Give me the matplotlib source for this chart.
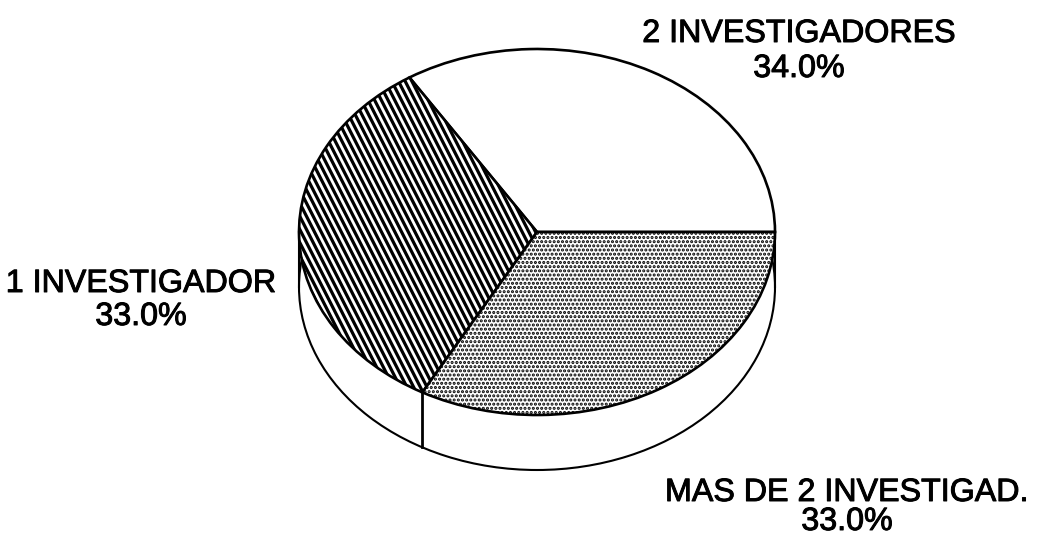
import numpy as np
import matplotlib
matplotlib.use('Agg')
import matplotlib.pyplot as plt
import matplotlib.patheffects as pe
from matplotlib.collections import LineCollection
from matplotlib.transforms import IdentityTransform

valores = [34.0, 33.0, 33.0]
nombres = ['2 INVESTIGADORES', '1 INVESTIGADOR', 'MAS DE 2 INVESTIGAD.']
porcentajes = ['34.0%', '33.0%', '33.0%']
# centro de cada etiqueta y lineas base en pixeles de la imagen
etiqueta_x = [799, 141, 847]
base_nombre = [42, 292, 501]
base_pct = [77, 325, 530]

W, H = 1037, 537
plt.rcParams['font.family'] = ['Liberation Sans', 'DejaVu Sans']
plt.rcParams['hatch.linewidth'] = 1.5

fig = plt.figure(figsize=(W/100, H/100), dpi=100)
# el eje ocupa justo la elipse superior
cx, cy, a, b, prof = 537, 232, 238, 183, 55
ax = fig.add_axes([(cx-a)/W, 1-(cy+b)/H, 2*a/W, 2*b/H])

# pared lateral
d = prof/b
ax.pie([1], radius=1, center=(0, -d), colors=['white'],
       wedgeprops=dict(edgecolor='black', linewidth=1.5, clip_on=False))
wedges, _ = ax.pie(valores, radius=1, startangle=0, counterclock=True,
                   colors=['white', 'white', 'white'],
                   wedgeprops=dict(edgecolor='black', linewidth=1.9, clip_on=False))
ax.set_aspect('auto')
ax.set_xlim(-1, 1)
ax.set_ylim(-1, 1)
ax.axis('off')

ax.plot([-1, -1], [0, -d], color='black', lw=1.5, clip_on=False)
ax.plot([1, 1], [0, -d], color='black', lw=1.5, clip_on=False)
t = np.radians(wedges[1].theta2)
ax.plot([np.cos(t), np.cos(t)], [np.sin(t), np.sin(t)-d], color='black', lw=2.0, clip_on=False)

# punteado
wedges[2].set_hatch('....')

# rayado inclinado, recortado a la porcion
xs = np.arange(-400, W+400, 6.7)
dx = H/np.tan(np.radians(63))
segs = [[(x, H), (x+dx, 0)] for x in xs]
rayas = LineCollection(segs, colors='black', linewidths=2.3, transform=IdentityTransform(), zorder=3)
ax.add_collection(rayas, autolim=False)
rayas.set_clip_path(wedges[1])

trazo = [pe.withStroke(linewidth=0.7, foreground='black')]
for i in range(3):
    fig.text(etiqueta_x[i]/W, 1-base_nombre[i]/H, nombres[i], ha='center', va='baseline',
             fontsize=23.2, path_effects=trazo)
    fig.text(etiqueta_x[i]/W, 1-base_pct[i]/H, porcentajes[i], ha='center', va='baseline',
             fontsize=23.2, path_effects=trazo)

fig.savefig('out.png', dpi=100)
